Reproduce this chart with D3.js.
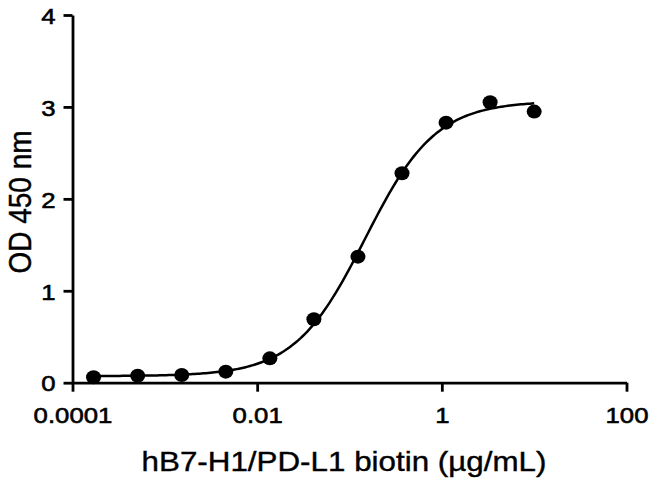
<!DOCTYPE html>
<html>
<head>
<meta charset="utf-8">
<script src="https://cdn.jsdelivr.net/npm/d3@7"></script>
<style>
  html, body { margin: 0; padding: 0; background: #fff; }
  svg { display: block; }
  text { font-family: "Liberation Sans", Arial, Helvetica, sans-serif; fill: #000; }
</style>
</head>
<body>
<svg id="chart" width="650" height="478"></svg>
<script>
// ---- data ----
const concentrations = [0.000169, 0.000508, 0.001524, 0.004572, 0.01372, 0.04115, 0.1235, 0.3704, 1.111, 3.333, 10];
const odValues       = [0.059, 0.076, 0.084, 0.12, 0.265, 0.69, 1.371, 2.278, 2.829, 3.051, 2.949];
const xTickValues = [0.0001, 0.01, 1, 100];
const xTickLabels = ["0.0001", "0.01", "1", "100"];
const yTickValues = [0, 1, 2, 3, 4];
const yTickLabels = ["0", "1", "2", "3", "4"];
const xTitle = "hB7-H1/PD-L1 biotin (\u00b5g/mL)";
const yTitle = "OD 450 nm";

// ---- 4-parameter logistic least-squares fit of the data (Nelder-Mead) ----
function model(p, lx) { return p[0] + (p[1] - p[0]) / (1 + Math.pow(10, (p[2] - lx) * p[3])); }
function sse(p) {
  let s = 0;
  concentrations.forEach((c, i) => { const r = model(p, Math.log10(c)) - odValues[i]; s += r * r; });
  return s;
}
function nelderMead(f, x0, steps, iters) {
  const n = x0.length;
  let simplex = [x0.slice()];
  for (let i = 0; i < n; i++) { const v = x0.slice(); v[i] += steps[i]; simplex.push(v); }
  let vals = simplex.map(f);
  for (let k = 0; k < iters; k++) {
    const idx = d3.range(n + 1).sort((a, b) => vals[a] - vals[b]);
    simplex = idx.map(i => simplex[i]); vals = idx.map(i => vals[i]);
    const cen = d3.range(n).map(j => d3.mean(simplex.slice(0, n), v => v[j]));
    const worst = simplex[n];
    const xr = cen.map((c, j) => c + (c - worst[j]));
    const fr = f(xr);
    if (fr < vals[0]) {
      const xe = cen.map((c, j) => c + 2 * (c - worst[j]));
      const fe = f(xe);
      if (fe < fr) { simplex[n] = xe; vals[n] = fe; } else { simplex[n] = xr; vals[n] = fr; }
    } else if (fr < vals[n - 1]) {
      simplex[n] = xr; vals[n] = fr;
    } else {
      const xc = cen.map((c, j) => c + 0.5 * (worst[j] - c));
      const fc = f(xc);
      if (fc < vals[n]) { simplex[n] = xc; vals[n] = fc; }
      else {
        for (let i = 1; i <= n; i++) {
          simplex[i] = simplex[i].map((v, j) => simplex[0][j] + 0.5 * (v - simplex[0][j]));
          vals[i] = f(simplex[i]);
        }
      }
    }
  }
  return simplex[d3.minIndex(vals)];
}
const fitP = nelderMead(sse, [0.07, 3.0, -0.8, 1.2], [0.02, 0.1, 0.1, 0.1], 3000);

// ---- layout ----
const svg = d3.select("#chart");
const x = d3.scaleLog().domain([0.0001, 100]).range([72.5, 626.5]);
const y = d3.scaleLinear().domain([0, 4]).range([382.7, 15]);
const stretch = 1.12;   // reference glyphs are slightly wide

const xAxis = d3.axisBottom(x).tickValues(xTickValues)
  .tickFormat((d, i) => xTickLabels[i]).tickSize(9).tickPadding(15).tickSizeOuter(0);
const yAxis = d3.axisLeft(y).tickValues(yTickValues)
  .tickFormat((d, i) => yTickLabels[i]).tickSize(9).tickPadding(8).tickSizeOuter(0);

const gx = svg.append("g").attr("transform", `translate(0,${y(0)})`).call(xAxis);
const gy = svg.append("g").attr("transform", `translate(${x(0.0001)},0)`).call(yAxis);
[gx, gy].forEach(g => {
  g.select(".domain").attr("stroke", "#000").attr("stroke-width", 2.8);
  g.selectAll(".tick line").attr("stroke", "#000").attr("stroke-width", 2.8);
  g.selectAll(".tick text")
    .attr("font-size", 23).attr("font-family", "Liberation Sans, Arial, sans-serif")
    .attr("fill", "#000").attr("stroke", "#000").attr("stroke-width", 0.6);
});
gx.selectAll(".tick text").attr("dy", "0.72em")
  .attr("transform", `scale(${stretch},1)`);
gy.selectAll(".tick text").attr("dy", "0.36em")
  .attr("x", -17 / stretch).attr("transform", `scale(${stretch},1)`);

// fitted curve
const lxMin = Math.log10(d3.min(concentrations));
const lxMax = Math.log10(d3.max(concentrations));
const curvePts = d3.range(0, 201).map(i => {
  const lx = lxMin + (lxMax - lxMin) * i / 200;
  return [Math.pow(10, lx), model(fitP, lx)];
});
svg.append("path")
  .datum(curvePts)
  .attr("fill", "none").attr("stroke", "#000").attr("stroke-width", 2.5)
  .attr("d", d3.line().x(d => x(d[0])).y(d => y(d[1])));

// points
svg.append("g").selectAll("ellipse")
  .data(concentrations.map((c, i) => [c, odValues[i]]))
  .join("ellipse")
  .attr("cx", d => x(d[0])).attr("cy", d => y(d[1])).attr("rx", 7.5).attr("ry", 7)
  .attr("fill", "#000");

// titles
svg.append("text")
  .attr("transform", `translate(344,471) scale(${stretch},1)`)
  .attr("text-anchor", "middle").attr("font-size", 28)
  .attr("stroke", "#000").attr("stroke-width", 0.4)
  .text(xTitle);
svg.append("text")
  .attr("transform", `translate(31,202) scale(${stretch},1) rotate(-90)`)
  .attr("text-anchor", "middle").attr("font-size", 28)
  .attr("stroke", "#000").attr("stroke-width", 0.4)
  .text(yTitle);
</script>
</body>
</html>
